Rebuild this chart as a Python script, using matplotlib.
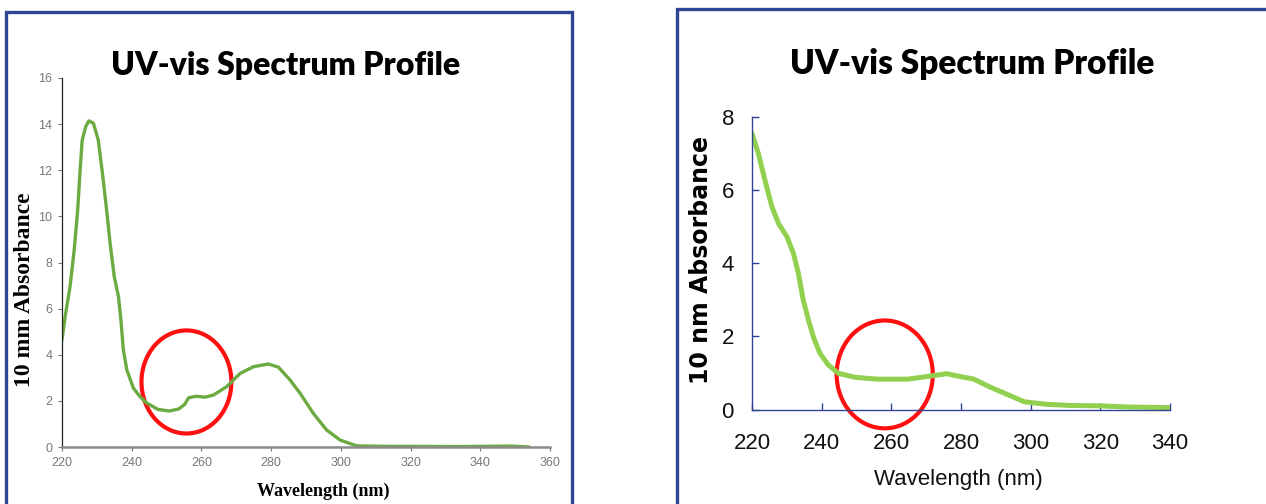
import matplotlib
matplotlib.use("Agg")
import matplotlib.pyplot as plt
from matplotlib import font_manager
from matplotlib.patches import Ellipse, Rectangle

# left spectrum (10 mm absorbance)
wl_left = [220, 220.9, 222.3, 223.5, 224.5, 225.2, 225.8, 226.8, 227.7, 229.0,
           230.4, 231.6, 232.8, 233.8, 235.0, 236.2, 236.9, 237.6, 238.6, 240.5,
           242.4, 244.2, 247.5, 250.8, 253.5, 255.2, 256.3, 258.4, 261.0, 263.4,
           267.2, 271.1, 274.9, 279.2, 282.1, 285.4, 288.3, 292.1, 295.9, 299.8,
           304.5, 312, 334, 349, 354]
abs_left = [4.64, 5.65, 6.95, 8.54, 10.28, 12.01, 13.31, 13.89, 14.14, 14.04,
            13.31, 11.87, 10.28, 8.83, 7.38, 6.52, 5.51, 4.21, 3.34, 2.55,
            2.18, 1.92, 1.63, 1.56, 1.65, 1.85, 2.13, 2.20, 2.16, 2.25,
            2.61, 3.19, 3.48, 3.60, 3.46, 2.91, 2.33, 1.46, 0.74, 0.30,
            0.05, 0.03, 0.02, 0.04, 0.0]

# right spectrum (10 nm absorbance)
wl_right = [220, 221.8, 223.7, 225.7, 227.6, 230.0, 231.9, 233.3, 234.7, 236.2,
            237.6, 239.5, 241.9, 244.8, 249.6, 255.9, 264.8, 269.3, 273.1, 275.9,
            279.3, 283.7, 288.2, 293.8, 298.2, 304.9, 311.6, 319.9, 327.2, 340]
abs_right = [7.55, 7.01, 6.28, 5.55, 5.09, 4.73, 4.27, 3.73, 3.0, 2.45,
             1.99, 1.54, 1.22, 0.99, 0.88, 0.83, 0.83, 0.89, 0.94, 0.98,
             0.91, 0.83, 0.62, 0.39, 0.21, 0.14, 0.11, 0.10, 0.07, 0.05]

# highlight circles (center x, center y, width nm, height abs)
circle_left = [255.7, 2.82, 25.8, 4.47]
circle_right = [258.1, 0.96, 27.6, 2.95]

title = "UV-vis Spectrum Profile"


def pick(*names):
    have = {f.name for f in font_manager.fontManager.ttflist}
    for n in names:
        if n in have:
            return n
    return "DejaVu Sans"


narrow = pick("Liberation Sans Narrow", "Liberation Sans")
serif = pick("Liberation Serif", "DejaVu Serif")
head = pick("Lato", "Roboto", "DejaVu Sans")
navy = "#2e4593"

fig = plt.figure(figsize=(12.66, 5.04), dpi=100)

# panel frames
fig.add_artist(Rectangle((6 / 1266, -0.1), 566 / 1266, (504 - 12) / 504 + 0.1,
                         transform=fig.transFigure, fill=False, ec=navy, lw=2.4))
fig.add_artist(Rectangle((677 / 1266, -0.1), 700 / 1266, (504 - 9) / 504 + 0.1,
                         transform=fig.transFigure, fill=False, ec=navy, lw=2.4))

# ---- left chart
ax1 = fig.add_axes([62 / 1266, 57 / 504, 488 / 1266, 369 / 504])
ax1.plot(wl_left, abs_left, color="#6cab41", lw=2.4, solid_capstyle="round",
         solid_joinstyle="round")
ax1.set_xlim(220, 360)
ax1.set_ylim(0, 16)
ax1.set_xticks(range(220, 361, 20))
ax1.set_yticks(range(0, 17, 2))
for s in ["top", "right"]:
    ax1.spines[s].set_visible(False)
ax1.spines["bottom"].set_color("#8a8a8a")
ax1.spines["bottom"].set_linewidth(1.8)
ax1.spines["left"].set_color("#222222")
ax1.spines["left"].set_linewidth(0.9)
ax1.tick_params(length=3, width=0.8, colors="#777777", labelsize=9, pad=4)
for lab in ax1.get_xticklabels() + ax1.get_yticklabels():
    lab.set_family(narrow)
ax1.add_patch(Ellipse(circle_left[:2], circle_left[2], circle_left[3],
                      fill=False, ec="#ff1010", lw=3, clip_on=False))
fig.text(25 / 1266, 1 - 290 / 504, "10 mm Absorbance", rotation=90, ha="center",
         va="center", family=serif, weight="bold", fontsize=17)
fig.text(323 / 1266, 1 - 491 / 504, "Wavelength (nm)", ha="center", va="center",
         family=serif, weight="bold", fontsize=13)
fig.text(286 / 1266, 1 - 65 / 504, title, ha="center", va="center",
         family=head, weight="heavy", fontsize=23)

# ---- right chart
ax2 = fig.add_axes([752 / 1266, 94.5 / 504, 418 / 1266, 292.5 / 504])
ax2.plot(wl_right, abs_right, color="#92d050", lw=3.6, solid_capstyle="round",
         solid_joinstyle="round")
ax2.set_xlim(220, 340)
ax2.set_ylim(0, 8)
ax2.set_xticks(range(220, 341, 20))
ax2.set_yticks(range(0, 9, 2))
for s in ["top", "right"]:
    ax2.spines[s].set_visible(False)
for s in ["bottom", "left"]:
    ax2.spines[s].set_color(navy)
    ax2.spines[s].set_linewidth(1.0)
ax2.tick_params(direction="in", length=5, width=1, color=navy, labelsize=16,
                labelcolor="#111111")
ax2.tick_params(axis="x", pad=17)
ax2.tick_params(axis="y", pad=13)
for lab in ax2.get_xticklabels() + ax2.get_yticklabels():
    lab.set_family(narrow)
ax2.add_patch(Ellipse(circle_right[:2], circle_right[2], circle_right[3],
                      fill=False, ec="#ff1010", lw=3, clip_on=False))
fig.text(701 / 1266, 1 - 260 / 504, "10 nm Absorbance", rotation=90, ha="center",
         va="center", family="DejaVu Sans", weight="bold", fontsize=17)
fig.text(958 / 1266, 1 - 479 / 504, "Wavelength (nm)", ha="center", va="center",
         family=narrow, fontsize=16, color="#111111")
fig.text(972 / 1266, 1 - 64 / 504, title, ha="center", va="center",
         family=head, weight="heavy", fontsize=24)

fig.savefig("out.png", dpi=100)
